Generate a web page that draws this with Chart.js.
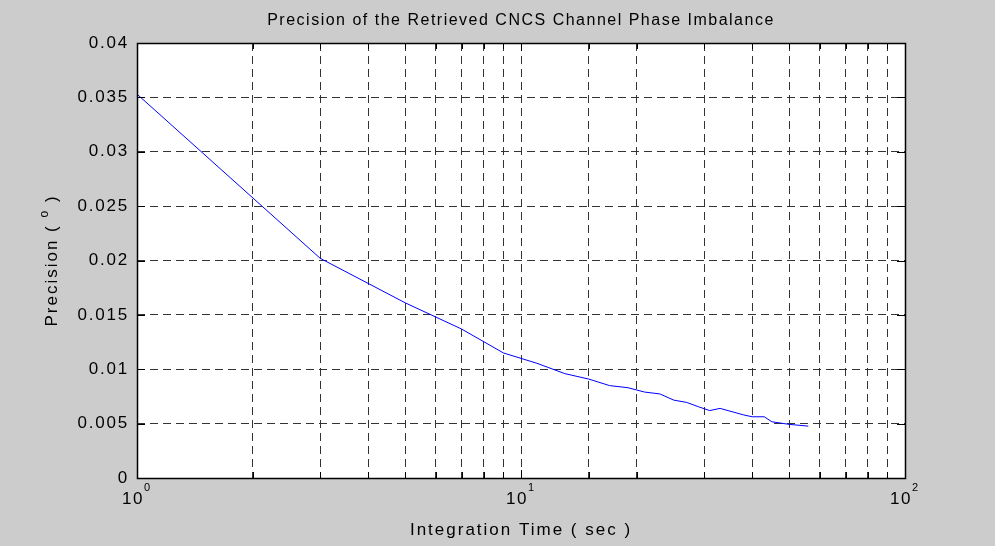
<!DOCTYPE html>
<html>
<head>
<meta charset="utf-8">
<script src="https://cdn.jsdelivr.net/npm/chart.js@4.4.1/dist/chart.umd.min.js"></script>
<style>
  html, body { margin: 0; padding: 0; background: #cccccc; }
  #wrap { width: 995px; height: 546px; }
</style>
</head>
<body>
<div id="wrap"><canvas id="chart" width="995" height="546"></canvas></div>
<script>
// valores
const integrationTime = [1, 3, 5, 7, 9, 11, 13, 15, 17, 19, 21, 23, 25, 27, 29, 31, 33, 38, 40, 43, 45, 50, 56];
const precision = [0.0353, 0.0202, 0.0161, 0.0137, 0.0115, 0.01055, 0.0096, 0.0091, 0.0085, 0.0083, 0.0079, 0.00773,
    0.00716, 0.00695, 0.00655, 0.0062, 0.0064, 0.0058, 0.00563, 0.00563, 0.00517, 0.00493, 0.00477];
const yTicks = [0, 0.005, 0.01, 0.015, 0.02, 0.025, 0.03, 0.035, 0.04];
const xDecades = [1, 10, 100];

const chartTitle = 'Precision of the Retrieved CNCS Channel Phase Imbalance';
const xTitle = 'Integration Time ( sec )';
const yTitle = 'Precision (';
const yTitleSup = 'o';

const FONT = '"Liberation Sans", Arial, Helvetica, sans-serif';

// desenha caixa, ticks internos e textos
const matlabLook = {
    id: 'matlabLook',
    beforeDraw(chart) {
        const { ctx, chartArea: a } = chart;
        ctx.save();
        ctx.fillStyle = '#ffffff';
        ctx.fillRect(a.left, a.top, a.right - a.left, a.bottom - a.top);
        ctx.restore();
        // espaçamento das letras dos rótulos do eixo y
        ctx.letterSpacing = '1.8px';
    },
    afterDraw(chart) {
        const { ctx, chartArea: a } = chart;
        const xs = chart.scales.x, ys = chart.scales.y;
        ctx.save();
        ctx.strokeStyle = '#000';
        ctx.lineWidth = 1;
        // ticks para dentro
        ctx.beginPath();
        xs.ticks.forEach(t => {
            const px = Math.round(xs.getPixelForValue(t.value)) + 0.5;
            const len = xDecades.includes(t.value) ? 8 : 6;
            ctx.moveTo(px, a.bottom); ctx.lineTo(px, a.bottom - len);
            ctx.moveTo(px, a.top); ctx.lineTo(px, a.top + len);
        });
        yTicks.forEach(v => {
            const py = Math.round(ys.getPixelForValue(v)) + 0.5;
            ctx.moveTo(a.left, py); ctx.lineTo(a.left + 8, py);
            ctx.moveTo(a.right, py); ctx.lineTo(a.right - 8, py);
        });
        ctx.stroke();
        ctx.lineWidth = 1.5;
        ctx.strokeRect(Math.round(a.left) + 0.5, Math.round(a.top) + 0.5,
            Math.round(a.right - a.left), Math.round(a.bottom - a.top));

        ctx.fillStyle = '#000';
        // título
        ctx.letterSpacing = '1.5px';
        ctx.font = '16px ' + FONT;
        ctx.textAlign = 'center';
        ctx.textBaseline = 'middle';
        ctx.fillText(chartTitle, (a.left + a.right) / 2, 21);
        // título eixo x
        ctx.letterSpacing = '2px';
        ctx.font = '17px ' + FONT;
        ctx.fillText(xTitle, (a.left + a.right) / 2, 530);
        // rótulos 10^n
        ctx.letterSpacing = '1.5px';
        xDecades.forEach(v => {
            const px = xs.getPixelForValue(v);
            const exp = String(Math.round(Math.log10(v)));
            ctx.font = '17px ' + FONT;
            ctx.textAlign = 'center';
            ctx.fillText('10', px - 4, 499);
            const w = ctx.measureText('10').width;
            ctx.font = '11px ' + FONT;
            ctx.textAlign = 'left';
            ctx.fillText(exp, px - 4 + w / 2, 488);
        });
        // título eixo y
        ctx.letterSpacing = '2px';
        ctx.translate(52, (a.top + a.bottom) / 2);
        ctx.rotate(-Math.PI / 2);
        ctx.font = '17px ' + FONT;
        const w1 = ctx.measureText(yTitle + ' ').width;
        ctx.font = '12px ' + FONT;
        const w2 = ctx.measureText(yTitleSup).width;
        ctx.font = '17px ' + FONT;
        const w3 = ctx.measureText(' )').width;
        let x0 = -(w1 + w2 + w3) / 2;
        ctx.textAlign = 'left';
        ctx.fillText(yTitle + ' ', x0, 0);
        ctx.font = '12px ' + FONT;
        ctx.fillText(yTitleSup, x0 + w1, -7);
        ctx.font = '17px ' + FONT;
        ctx.fillText(' )', x0 + w1 + w2, 0);
        ctx.restore();
        ctx.letterSpacing = '0px';
    }
};

new Chart(document.getElementById('chart').getContext('2d'), {
    type: 'line',
    data: {
        datasets: [{
            data: integrationTime.map((t, i) => ({ x: t, y: precision[i] })),
            borderColor: '#0000ff',
            borderWidth: 1,
            pointRadius: 0,
            tension: 0,
            fill: false
        }]
    },
    options: {
        responsive: false,
        animation: false,
        events: [],
        layout: { padding: { top: 43, right: 90, bottom: 0, left: 0 } },
        plugins: { legend: { display: false }, tooltip: { enabled: false }, title: { display: false } },
        scales: {
            x: {
                type: 'logarithmic',
                min: 1,
                max: 100,
                afterFit: s => { s.height = 68; },
                afterBuildTicks: s => {
                    s.ticks = s.ticks.filter(t => t.value >= 1 && t.value <= 100);
                },
                ticks: { display: false, autoSkip: false },
                border: { display: false, dash: [8, 5] },
                grid: { color: '#333', lineWidth: 1, drawTicks: false }
            },
            y: {
                min: 0,
                max: 0.04,
                afterFit: s => { s.width = 137; },
                afterBuildTicks: s => { s.ticks = yTicks.map(v => ({ value: v })); },
                border: { display: false, dash: [8, 5] },
                grid: { color: '#333', lineWidth: 1, drawTicks: false },
                ticks: {
                    padding: 8,
                    color: '#000',
                    font: { family: FONT, size: 17 },
                    callback: v => String(+v.toFixed(3))
                }
            }
        }
    },
    plugins: [matlabLook]
});
</script>
</body>
</html>
